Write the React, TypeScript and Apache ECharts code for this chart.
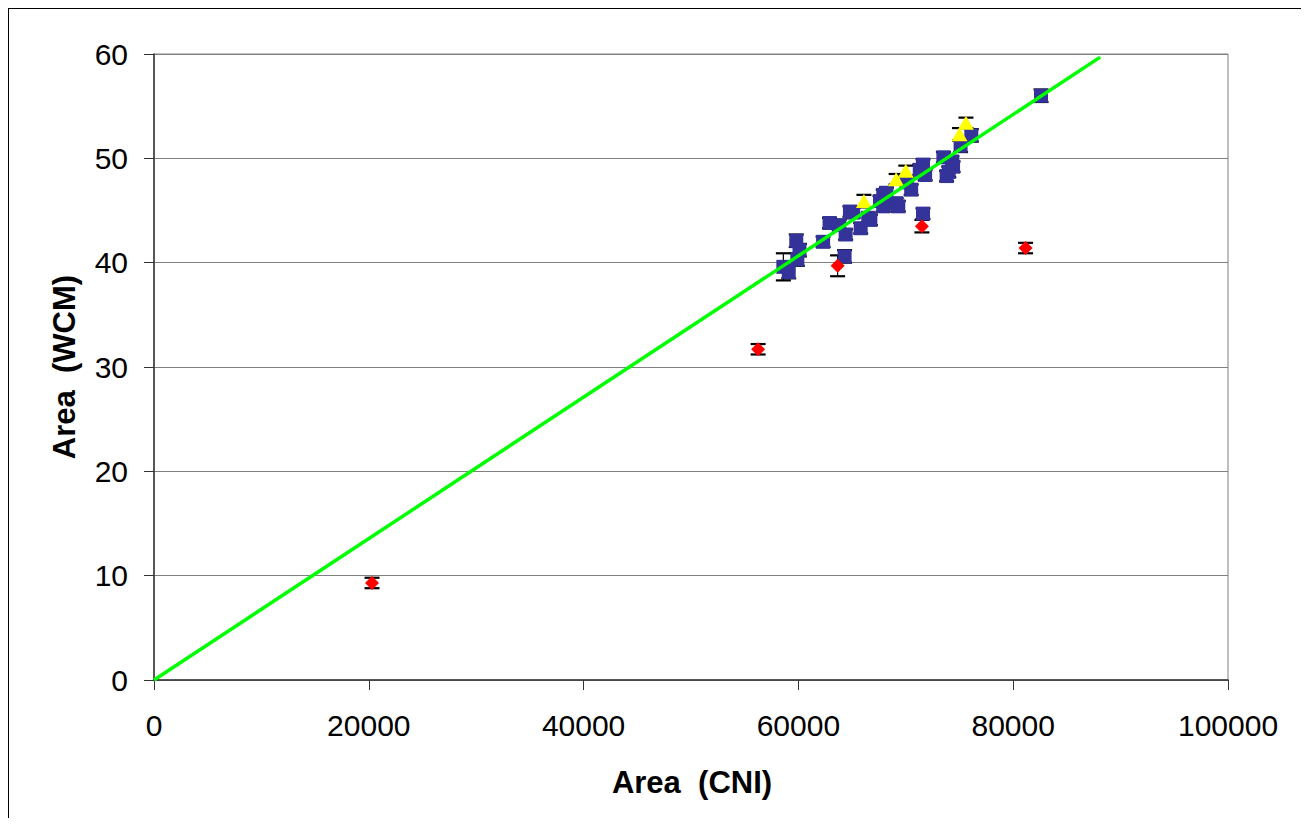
import React, { useEffect, useRef } from "react";
import * as echarts from "echarts";

// [Area (CNI), Area (WCM), error]
const bluePoints: number[][] = [
  [82590, 56.0, 0.6],
  [76100, 52.2, 0.6],
  [75100, 51.2, 0.6],
  [73500, 50.1, 0.5],
  [74300, 49.7, 0.5],
  [74000, 48.7, 0.5],
  [74400, 49.2, 0.5],
  [73800, 48.3, 0.5],
  [71600, 49.4, 0.5],
  [71300, 48.9, 0.5],
  [71800, 48.4, 0.5],
  [70500, 47.0, 0.5],
  [70100, 47.7, 0.5],
  [68200, 46.7, 0.5],
  [67900, 46.5, 0.5],
  [67600, 45.9, 0.5],
  [69100, 45.7, 0.5],
  [69300, 45.4, 0.5],
  [67900, 45.4, 0.5],
  [65100, 44.8, 0.5],
  [64800, 44.9, 0.5],
  [66500, 44.3, 0.5],
  [66700, 44.1, 0.5],
  [65800, 43.3, 0.5],
  [62900, 43.8, 0.5],
  [63800, 43.6, 0.5],
  [64400, 42.7, 0.5],
  [62300, 42.0, 0.5],
  [71600, 44.7, 0.5],
  [64300, 40.6, 0.6],
  [59800, 42.1, 0.6],
  [60100, 41.2, 0.6],
  [59900, 40.3, 0.6],
  [58600, 39.6, 1.3],
  [59100, 39.1, 0.6],
];

const yellowPoints: number[][] = [
  [75600, 53.4, 0.5],
  [75000, 52.3, 0.6],
  [70000, 48.8, 0.5],
  [69100, 48.0, 0.5],
  [66100, 45.9, 0.6],
];

const redPoints: number[][] = [
  [71500, 43.5, 0.6],
  [81150, 41.4, 0.5],
  [63650, 39.7, 1.0],
  [56250, 31.7, 0.5],
  [20300, 9.3, 0.5],
];

const fitLine: number[][] = [
  [0, 0],
  [88100, 59.7],
];

const xTicks = { min: 0, max: 100000, interval: 20000 };
const yTicks = { min: 0, max: 60, interval: 10 };

const FONT = "'Liberation Sans', Arial, sans-serif";

export default function App() {
  const ref = useRef<HTMLDivElement>(null);

  useEffect(() => {
    if (!ref.current) return;
    const chart = echarts.init(ref.current, null, { renderer: "svg" });
    const allPoints = [...bluePoints, ...yellowPoints, ...redPoints];

    const option: any = {
      animation: false,
      backgroundColor: "#ffffff",
      grid: {
        left: 146,
        top: 46,
        width: 1074,
        height: 626,
        show: true,
        borderColor: "#808080",
        borderWidth: 1,
        containLabel: false,
      },
      xAxis: {
        type: "value",
        min: xTicks.min,
        max: xTicks.max,
        interval: xTicks.interval,
        axisLine: { show: true, onZero: false, lineStyle: { color: "#333333", width: 1.5 } },
        axisTick: { show: true, inside: false, length: 10, lineStyle: { color: "#333333" } },
        axisLabel: {
          fontSize: 30,
          fontFamily: FONT,
          color: "#000",
          margin: 30,
          formatter: (v: number) => String(v),
        },
        splitLine: { show: false },
      },
      yAxis: {
        type: "value",
        min: yTicks.min,
        max: yTicks.max,
        interval: yTicks.interval,
        axisLine: { show: true, onZero: false, lineStyle: { color: "#333333", width: 1.5 } },
        axisTick: { show: true, inside: false, length: 10, lineStyle: { color: "#333333" } },
        axisLabel: { fontSize: 30, fontFamily: FONT, color: "#000", margin: 26 },
        splitLine: { show: true, lineStyle: { color: "#808080", width: 1 } },
      },
      graphic: [
        { type: "line", shape: { x1: 0.5, y1: 0, x2: 0.5, y2: 810 }, style: { stroke: "#000", lineWidth: 1 } },
        { type: "line", shape: { x1: 0, y1: 0.5, x2: 1297, y2: 0.5 }, style: { stroke: "#000", lineWidth: 1 } },
        { type: "line", shape: { x1: 1296.5, y1: 0, x2: 1296.5, y2: 810 }, style: { stroke: "#000", lineWidth: 1 } },
        {
          type: "text",
          x: 684,
          y: 774,
          style: {
            text: "Area  (CNI)",
            font: `bold 31px ${FONT}`,
            fill: "#000",
            textAlign: "center",
            textVerticalAlign: "middle",
          },
        },
        {
          type: "text",
          x: 56,
          y: 359,
          rotation: Math.PI / 2,
          style: {
            text: "Area  (WCM)",
            font: `bold 31px ${FONT}`,
            fill: "#000",
            textAlign: "center",
            textVerticalAlign: "middle",
          },
        },
      ],
      series: [
        {
          type: "custom",
          name: "errors",
          z: 1,
          data: allPoints,
          encode: { x: 0, y: 1 },
          renderItem: (params: any, api: any) => {
            const x = api.value(0);
            const y = api.value(1);
            const e = api.value(2);
            const top = api.coord([x, y + e]);
            const bot = api.coord([x, y - e]);
            const hw = 7.5;
            return {
              type: "group",
              children: [
                { type: "line", shape: { x1: top[0], y1: top[1], x2: bot[0], y2: bot[1] }, style: { stroke: "#000", lineWidth: 1.2 } },
                { type: "line", shape: { x1: top[0] - hw, y1: top[1], x2: top[0] + hw, y2: top[1] }, style: { stroke: "#000", lineWidth: 2.2 } },
                { type: "line", shape: { x1: bot[0] - hw, y1: bot[1], x2: bot[0] + hw, y2: bot[1] }, style: { stroke: "#000", lineWidth: 2.2 } },
              ],
            };
          },
        },
        {
          type: "scatter",
          name: "blue",
          z: 2,
          symbol: "rect",
          symbolSize: 14,
          itemStyle: { color: "#333399", opacity: 1 },
          data: bluePoints.map((p) => [p[0], p[1]]),
        },
        {
          type: "scatter",
          name: "yellow",
          z: 2,
          symbol: "triangle",
          symbolSize: [16, 14],
          itemStyle: { color: "#FFFF00", opacity: 1 },
          data: yellowPoints.map((p) => [p[0], p[1]]),
        },
        {
          type: "scatter",
          name: "red",
          z: 2,
          symbol: "diamond",
          symbolSize: 14,
          itemStyle: { color: "#FF0000", opacity: 1 },
          data: redPoints.map((p) => [p[0], p[1]]),
        },
        {
          type: "line",
          name: "fit",
          z: 3,
          symbol: "none",
          lineStyle: { color: "#00FF00", width: 3.5 },
          data: fitLine,
        },
      ],
    };

    chart.setOption(option);
    return () => chart.dispose();
  }, []);

  return <div ref={ref} style={{ width: 1297, height: 810, overflow: "hidden" }} />;
}
